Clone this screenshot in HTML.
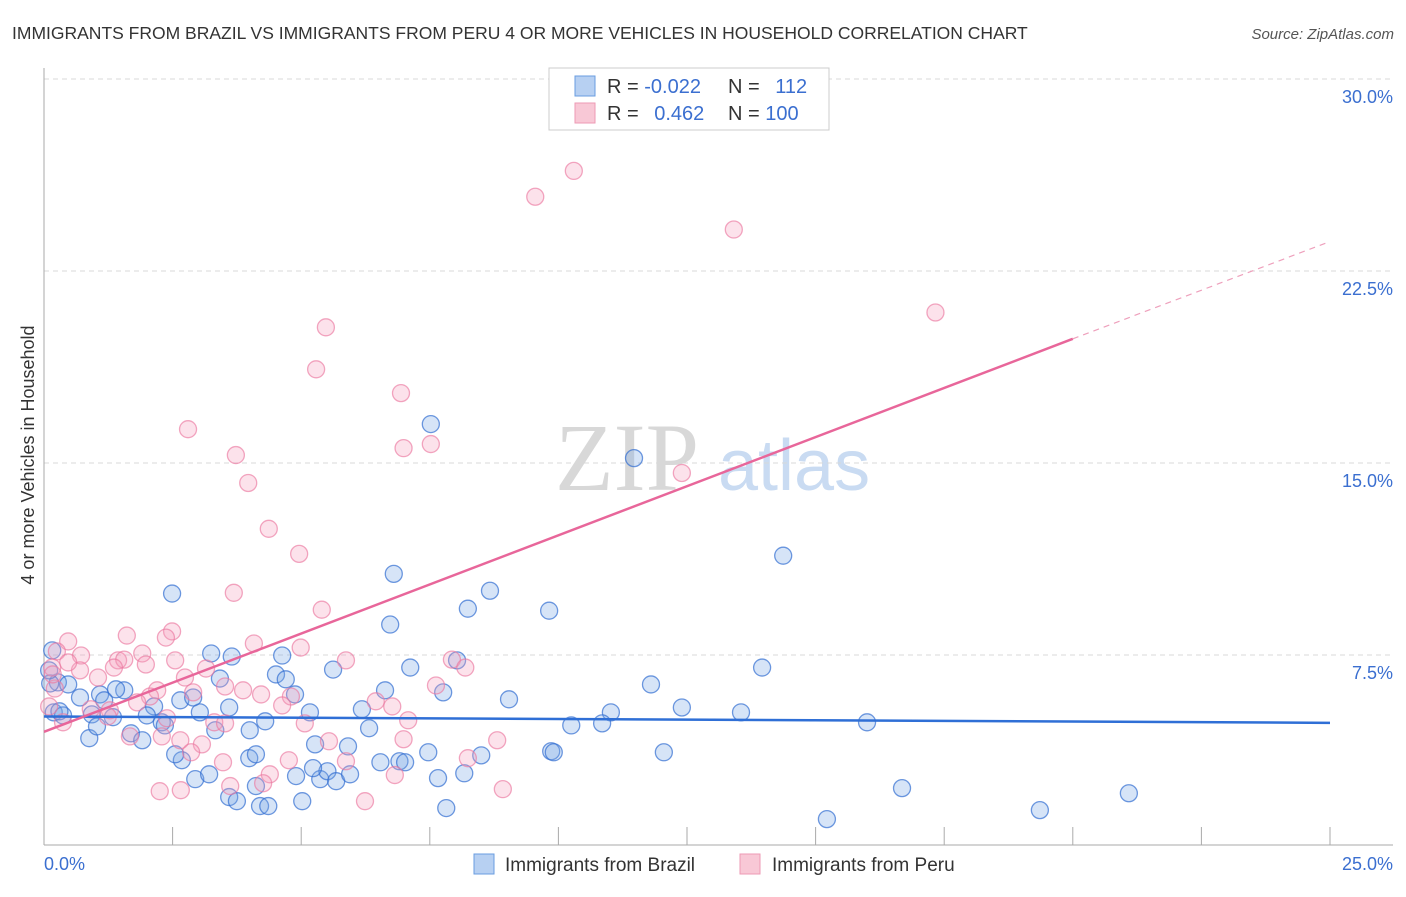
<!DOCTYPE html>
<html><head><meta charset="utf-8"><style>
body{margin:0;background:#fff;font-family:"Liberation Sans",sans-serif;}
</style></head><body>
<svg id="chart" width="1406" height="892" xmlns="http://www.w3.org/2000/svg" style="font-family:'Liberation Sans',sans-serif">
<text x="12" y="39" font-size="17.5" fill="#333">IMMIGRANTS FROM BRAZIL VS IMMIGRANTS FROM PERU 4 OR MORE VEHICLES IN HOUSEHOLD CORRELATION CHART</text>
<text x="1394" y="39" font-size="15" fill="#555" font-style="italic" text-anchor="end">Source: ZipAtlas.com</text>
<text transform="translate(34,455) rotate(-90)" font-size="18" fill="#333" text-anchor="middle">4 or more Vehicles in Household</text>
<g>
<text x="555" y="490" font-size="96" fill="#d8d8d8" font-family="Liberation Serif,serif">ZIP</text>
<text x="718" y="490" font-size="72" fill="#c9dbf2">atlas</text>
</g>
<g id="grid"></g><g id="axes"></g><g id="pts"></g><g id="trends"></g>
<g>
<rect x="549" y="68" width="280" height="62" fill="#fff" stroke="#ccc"/>
<rect x="575" y="76" width="20" height="20" fill="#b7d0f2" stroke="#6a9de0"/>
<rect x="575" y="103" width="20" height="20" fill="#f8c8d6" stroke="#ee9ab4"/>
<text x="607" y="93" font-size="20" fill="#333">R = <tspan fill="#3b6fd0">-0.022</tspan></text>
<text x="728" y="93" font-size="20" fill="#333">N = <tspan fill="#3b6fd0" dx="10">112</tspan></text>
<text x="607" y="120" font-size="20" fill="#333">R = <tspan fill="#3b6fd0" dx="10">0.462</tspan></text>
<text x="728" y="120" font-size="20" fill="#333">N = <tspan fill="#3b6fd0">100</tspan></text>
</g>
<g>
<rect x="474" y="854" width="20" height="20" fill="#b7d0f2" stroke="#6a9de0"/>
<text x="505" y="871" font-size="19" fill="#333">Immigrants from Brazil</text>
<rect x="740" y="854" width="20" height="20" fill="#f8c8d6" stroke="#ee9ab4"/>
<text x="772" y="871" font-size="19" fill="#333">Immigrants from Peru</text>
</g>
</svg>
<script>
const yTicks=[7.5,15,22.5,30];
const yTickLabels=["7.5%","15.0%","22.5%","30.0%"];
const xTickLabels=["0.0%","25.0%"];
const brazilX=[7.52,11.47,14.37,6.80,8.67,2.49,8.24,9.82,6.73,3.25,3.65,4.63,13.96,7.12,5.62,8.03,11.80,3.42,4.51,4.70,6.63,7.76,9.04,12.40,13.55,16.00,11.02,10.25,10.85,6.18,6.32,5.17,4.30,3.60,3.03,2.65,2.90,2.14,2.00,1.56,1.40,1.09,1.17,0.70,0.27,0.16,0.12,0.47,0.19,0.37,0.93,1.34,0.88,1.03,1.69,1.91,2.29,2.35,2.68,2.94,3.21,3.33,3.60,3.75,3.99,4.12,4.20,4.36,5.02,4.90,5.27,5.37,5.51,5.68,5.91,5.95,6.54,6.91,7.02,7.47,7.66,7.82,8.17,8.50,9.86,9.91,12.05,15.22,16.68,19.36,21.09,4.12,2.55,5.23,4.88,4.00,0.1,0.3];
const brazilY=[16.52,15.19,11.38,10.67,10.01,9.90,9.31,9.23,8.69,7.56,7.44,7.48,7.01,7.01,6.93,7.29,6.35,6.58,6.74,6.55,6.12,6.04,5.77,5.45,5.26,4.87,5.26,4.75,4.83,5.38,4.64,5.26,4.91,5.45,5.26,5.73,5.84,5.49,5.14,6.12,6.16,5.96,5.73,5.84,6.43,7.68,6.39,6.35,5.26,5.14,5.18,5.07,4.25,4.71,4.44,4.17,4.87,4.75,3.39,2.65,2.84,4.56,1.95,1.79,3.47,2.38,1.60,1.60,1.79,2.77,4.01,2.65,2.96,2.57,3.93,2.84,3.31,3.35,3.31,3.70,2.69,1.52,2.88,3.58,3.74,3.70,3.70,1.09,2.30,1.44,2.10,3.62,3.62,3.08,5.96,4.56,6.9,5.3];
const peruX=[10.30,9.55,13.41,17.33,5.48,5.29,6.94,2.80,7.52,6.99,3.73,12.40,3.97,4.37,4.96,3.69,5.40,2.49,1.61,2.37,0.47,4.08,4.99,1.91,0.72,0.25,1.44,1.56,2.55,1.98,5.87,7.93,8.19,3.15,1.36,0.70,1.05,0.47,2.74,3.52,7.62,2.90,3.87,2.20,2.06,4.22,4.80,6.45,1.81,4.63,0.91,1.28,6.77,0.10,2.39,1.24,3.31,3.52,5.07,7.08,0.37,1.67,2.29,2.65,3.07,5.54,6.99,8.81,2.86,4.76,5.87,8.24,3.48,4.39,6.82,3.62,4.26,2.25,2.66,6.24,8.92,0.16,0.21,0.17];
const peruY=[26.41,25.40,24.12,20.88,20.30,18.66,17.73,16.32,15.74,15.58,15.31,14.61,14.22,12.43,11.45,9.93,9.27,8.42,8.26,8.18,8.03,7.95,7.79,7.56,7.48,7.64,7.29,7.32,7.29,7.13,7.29,7.32,7.01,6.97,7.01,6.90,6.62,7.21,6.62,6.27,6.31,6.04,6.12,6.12,5.88,5.96,5.88,5.69,5.65,5.53,5.38,5.34,5.49,5.49,5.03,5.10,4.87,4.83,4.83,4.95,4.87,4.32,4.32,4.17,4.01,4.13,4.21,4.17,3.70,3.39,3.35,3.47,3.31,2.84,2.81,2.38,2.49,2.18,2.22,1.79,2.26,7.01,6.19,6.74];
const brazilTrend=[5.1,4.85];
const peruTrend=[4.5,19.85,23.65];
const NS='http://www.w3.org/2000/svg';
const x=v=>44+v/25*1286;
const y=v=>847-v*25.6;
function mk(tag,attrs,parent){const e=document.createElementNS(NS,tag);for(const k in attrs)e.setAttribute(k,attrs[k]);document.getElementById(parent).appendChild(e);return e;}
yTicks.forEach((t,i)=>{
 const g=mk('line',{x1:44,x2:1393,y1:y(t),y2:y(t),stroke:'#d8d8d8','stroke-dasharray':'5,4'},'grid');
 
 
 const l=mk('text',{x:1393,y:y(t)+24,'font-size':18,fill:'#3b6fd0','text-anchor':'end'},'grid');
 l.textContent=yTickLabels[i];
 
 
});
let a=mk('line',{x1:44,x2:44,y1:68,y2:845,stroke:'#aaa'},'axes');


a=mk('line',{x1:44,x2:1393,y1:845,y2:845,stroke:'#aaa'},'axes');


for(let i=1;i<=10;i++){const t=mk('line',{x1:x(i*2.5),x2:x(i*2.5),y1:827,y2:845,stroke:'#aaa'},'axes');
 
 }
[[0,'start',44],[1,'end',1393]].forEach(([i,anc,px])=>{const t=mk('text',{x:px,y:870,'font-size':18,fill:'#3b6fd0','text-anchor':anc},'axes');t.textContent=xTickLabels[i];
 
 });
brazilX.forEach((v,i)=>{const c=mk('circle',{cx:x(v),cy:y(brazilY[i]),r:8.5,fill:'rgba(120,165,230,0.3)',stroke:'rgba(50,110,210,0.7)','stroke-width':1.3},'pts');
 
 });
peruX.forEach((v,i)=>{const c=mk('circle',{cx:x(v),cy:y(peruY[i]),r:8.5,fill:'rgba(245,160,190,0.3)',stroke:'rgba(235,120,160,0.65)','stroke-width':1.3},'pts');
 
 });
let tl=mk('line',{x1:x(0),y1:y(brazilTrend[0]),x2:x(25),y2:y(brazilTrend[1]),stroke:'#2f6fd6','stroke-width':2.5},'trends');


tl=mk('line',{x1:x(0),y1:y(peruTrend[0]),x2:x(20),y2:y(peruTrend[1]),stroke:'#e8669a','stroke-width':2.5},'trends');


tl=mk('line',{x1:x(20),y1:y(peruTrend[1]),x2:x(25),y2:y(peruTrend[2]),stroke:'#eea0bc','stroke-width':1.2,'stroke-dasharray':'6,5'},'trends');


</script>
</body></html>
